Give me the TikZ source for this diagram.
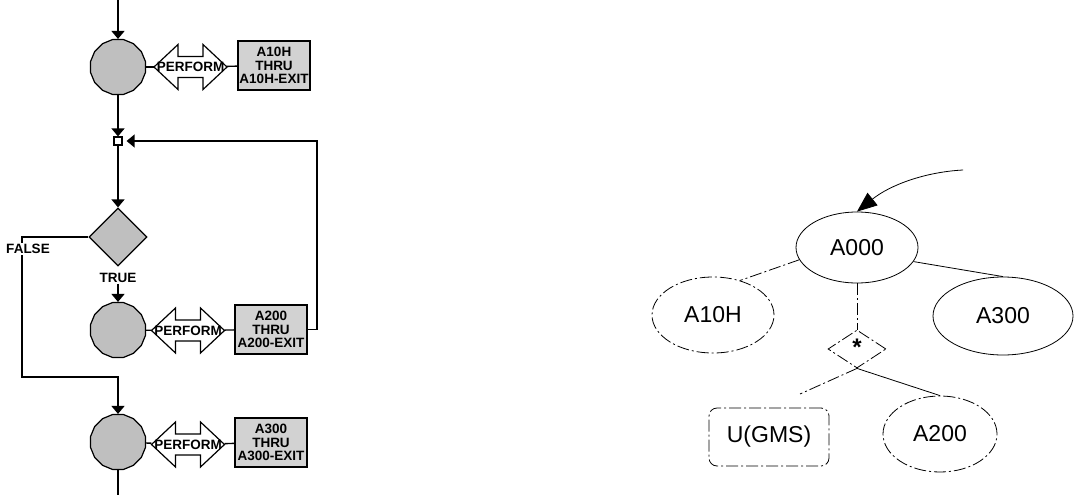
\documentclass[tikz,border=0pt]{standalone}
\usepackage{fontspec}
\setmainfont{Liberation Sans}
\usetikzlibrary{shapes.geometric,arrows.meta}
\newcommand{\lblfont}{\bfseries\fontsize{13.5}{13.5}\selectfont}
\newcommand{\perfshape}[1]{\draw[line width=1.2pt, fill=white] ([shift={(-36.5,0)}]#1) -- ++(24,-22.5) -- ++(0,12) -- ++(25,0) -- ++(0,-12) -- ++(24,22.5) -- ++(-24,22.5) -- ++(0,-12) -- ++(-25,0) -- ++(0,12) -- cycle;}
\begin{document}
\begin{tikzpicture}[x=1pt,y=-1pt,
  flow/.style={line width=1.4pt},
  farrow/.style={flow,-{Triangle[width=13pt,length=8pt]}},
  procnode/.style={regular polygon, regular polygon sides=16, draw, line width=1.2pt, fill=gray!50, minimum size=56pt, inner sep=0},
  perftext/.style={minimum width=73pt, minimum height=45pt, inner sep=0, font=\lblfont},
  rangebox/.style={draw, line width=1.2pt, fill=gray!35, minimum width=72pt, minimum height=49pt, align=center, font=\lblfont, inner sep=1pt},
  decision/.style={diamond, draw, line width=1.2pt, fill=gray!50, minimum width=58pt, minimum height=58pt, inner sep=0},
  condlbl/.style={font=\lblfont, inner sep=1pt},
  tline/.style={line width=0.8pt},
  dline/.style={line width=0.8pt, dash pattern=on 12pt off 3pt on 2pt off 3pt},
  ent/.style={ellipse, inner sep=0, font=\fontsize{23}{23}\selectfont}
]
\useasboundingbox (0,0) rectangle (1075,495);

% ---------- left flowchart ----------
\coordinate (top) at (118,0);
\coordinate (p1c) at (190.5,67);
\coordinate (p2c) at (188,330.5);
\coordinate (p3c) at (188,444.5);
\node[procnode] (c1) at (118,67) {};
\perfshape{p1c}
\node[perftext] (p1) at (p1c) {PERFORM};
\node[rangebox] (b1) at (274,65.5) {A10H\\THRU\\A10H-EXIT};
\node[draw, line width=1.2pt, fill=white, minimum size=8pt, inner sep=0] (sq) at (118,141) {};
\node[decision] (d) at (118,237) {};
\node[condlbl] (truelbl) at (118,278) {TRUE};
\node[procnode] (c2) at (118,330) {};
\perfshape{p2c}
\node[perftext] (p2) at (p2c) {PERFORM};
\node[rangebox] (b2) at (271,329.5) {A200\\THRU\\A200-EXIT};
\node[procnode] (c3) at (118,442) {};
\perfshape{p3c}
\node[perftext] (p3) at (p3c) {PERFORM};
\node[rangebox] (b3) at (271,442.5) {A300\\THRU\\A300-EXIT};
\coordinate (loopc) at (317,141);
\coordinate (fc) at (22,377);
\coordinate (bot) at (118,495);

\draw[farrow] (top) -- (c1);
\draw[flow] (c1) -- (p1);
\draw[flow] (p1) -- (b1);
\draw[farrow] (c1) -- (sq);
\draw[farrow] (sq) -- (d);
\draw[farrow] (truelbl) -- (c2);
\draw[flow] (c2) -- (p2);
\draw[flow] (p2) -- (b2);
\draw[farrow, shorten >=4pt] (b2.east) -| (loopc) -- (sq);
\draw[farrow] (d.west) -| (fc) -| (c3);
\draw[flow] (c3) -- (p3);
\draw[flow] (p3) -- (b3);
\draw[flow] (c3) -- (bot);
\node[condlbl, fill=white] (falselbl) at (28,249) {FALSE};

% ---------- right tree ----------
\node[ent, draw, tline, minimum width=122pt, minimum height=71pt] (a000) at (857,247.5) {A000};
\node[ent, draw, dline, minimum width=122pt, minimum height=76pt] (a10h) at (713,315) {A10H};
\node[ent, draw, tline, minimum width=140pt, minimum height=78pt] (a300) at (1003,316) {A300};
\node[diamond, draw, dline, minimum width=58pt, minimum height=38pt, inner sep=0] (dia2) at (857,349) {};
\node[font=\bfseries\fontsize{24}{24}\selectfont, inner sep=0] (star) at (857,347) {*};
\node[draw, dline, rounded corners=8pt, minimum width=120pt, minimum height=58pt, font=\fontsize{23}{23}\selectfont] (ugms) at (769,437) {U(GMS)};
\node[ent, draw, dline, minimum width=114pt, minimum height=76pt] (a200) at (940,434) {A200};
\coordinate (curvestart) at (963,170);
\coordinate (ugmsend) at (800,394);

\draw[tline, -{Triangle[width=16pt,length=20pt]}] (curvestart) .. controls (925,172) and (890,185) .. (a000.north);
\draw[dline] (a000.192) -- (a10h.52);
\draw[tline] (a000.-14) -- (a300.north);
\draw[dline] (a000.south) -- (dia2.north);
\draw[dline] (dia2.south) -- (ugmsend);
\draw[tline] (dia2.south) -- (a200.north);
\end{tikzpicture}
\end{document}
